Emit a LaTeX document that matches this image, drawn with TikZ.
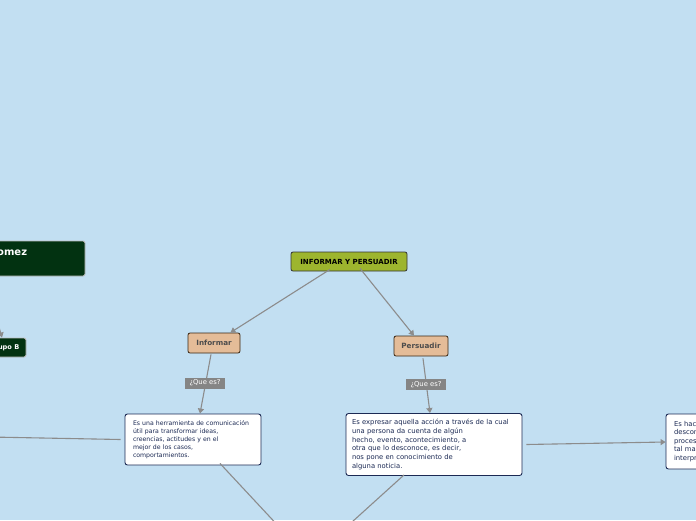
\documentclass[tikz,border=0pt]{standalone}
\usepackage{fontspec}
\setmainfont{DejaVu Sans}
\usetikzlibrary{arrows.meta}
\definecolor{sky}{RGB}{194,223,242}
\definecolor{olive}{RGB}{157,181,46}
\definecolor{tan}{RGB}{228,188,152}
\definecolor{link}{RGB}{140,140,140}
\definecolor{navy}{RGB}{28,42,84}
\definecolor{forest}{RGB}{2,50,17}
\tikzset{
root/.style={draw=black!80,fill=olive,rounded corners=2pt,line width=0.8pt,minimum width=116pt,minimum height=19pt,inner sep=0pt,font=\fontsize{7}{8}\selectfont\bfseries,text=black},
topic/.style={draw=black!70!brown,fill=tan,rounded corners=2pt,line width=0.8pt,minimum height=20pt,inner sep=0pt,font=\fontsize{7.2}{8}\selectfont\bfseries,text=black!70},
qlabel/.style={fill=link!95!black,inner sep=0pt,minimum width=40pt,minimum height=11pt,font=\fontsize{6.8}{7}\selectfont,text=white},
descbox/.style={draw=navy,fill=white,rounded corners=2.5pt,line width=0.9pt,inner xsep=8pt,inner ysep=0pt,align=left,text=navy},
darkbox/.style={draw=white!75!black,fill=forest,rounded corners=2pt,line width=0.9pt,inner sep=0pt},
darktext/.style={inner sep=0pt,text=white,font=\bfseries},
linkline/.style={draw=link,line width=1.1pt},
linkarrow/.style={linkline,-{Triangle[length=5pt,width=6pt]}}
}
\begin{document}
\begin{tikzpicture}[x=1pt,y=-1pt]
\useasboundingbox (0,0) rectangle (696,520);
\clip (0,0) rectangle (696,520);
\fill[sky] (0,0) rectangle (696,520);
% main topic and branches
\node[root] (main) at (349,261.5) {INFORMAR Y PERSUADIR};
\node[topic,minimum width=52pt] (inf) at (214,343) {Informar};
\node[topic,minimum width=54pt] (per) at (421,346) {Persuadir};
\node[descbox,minimum width=136pt,minimum height=51pt,text width=120pt,font=\fontsize{6.2}{8}\selectfont] (infdesc) at (193,439.5) {Es una herramienta de comunicación\\útil para transformar ideas,\\creencias, actitudes y en el\\mejor de los casos,\\comportamientos.};
\node[descbox,inner xsep=6pt,minimum width=176pt,minimum height=62pt,text width=164pt,font=\fontsize{6.8}{8.7}\selectfont] (perdesc) at (434,444.5) {Es expresar aquella acción a través de la cual\\una persona da cuenta de algún\\hecho, evento, acontecimiento, a\\otra que lo desconoce, es decir,\\nos pone en conocimiento de\\alguna noticia.};
\node[descbox,minimum width=94pt,minimum height=55pt,text width=78pt,font=\fontsize{6.8}{8.6}\selectfont] (extra) at (713,441.5) {Es hac\\descon\\proces\\tal ma\\interpr};
% side nodes cut by the border
\node[darkbox,minimum width=145pt,minimum height=35pt] (autor) at (12.5,258.5) {};
\node[darktext,anchor=west,font=\fontsize{10}{11}\selectfont\bfseries] (autortxt) at (-3,253) {omez};
\node[darkbox,minimum width=60pt,minimum height=19pt] (grupo) at (-4,347.5) {};
\node[darktext,anchor=east,font=\fontsize{6.6}{7}\selectfont\bfseries] (grupotxt) at (19.5,347.5) {upo B};
\coordinate (grupoin) at (-6,310);
\coordinate (leftin) at (-10,437);
\coordinate (below) at (310,560);
% connectors
\draw[linkarrow] ([xshift=-19pt,yshift=2pt]main.south) -- ([xshift=-10pt]inf.north east);
\draw[linkarrow] ([xshift=11pt,yshift=3pt]main.south) -- ([xshift=-7pt]per.north);
\draw[linkarrow] ([xshift=-3pt,yshift=-1pt]inf.south) -- ([xshift=7pt]infdesc.north);
\draw[linkarrow] ([xshift=2pt,yshift=-2pt]per.south) -- ([xshift=-4pt]perdesc.north);
\draw[linkarrow] ([xshift=4pt]perdesc.east) -- ([yshift=-0.5pt]extra.west);
\draw[linkline] ([xshift=-4pt]infdesc.west) -- (leftin);
\draw[linkarrow] (grupoin) -- ([xshift=6pt]grupo.north);
\draw[linkline] ([xshift=27pt,yshift=2pt]infdesc.south) -- (below);
\draw[linkline] ([xshift=-30pt,yshift=1pt]perdesc.south) -- (below);
% labels on the links
\node[qlabel] (q1) at (205,383) {¿Que es?};
\node[qlabel] (q2) at (426,384.5) {¿Que es?};
\end{tikzpicture}
\end{document}
